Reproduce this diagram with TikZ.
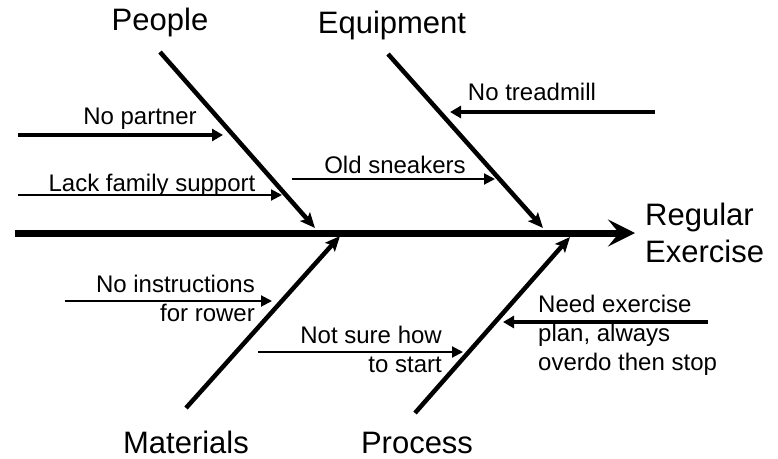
\documentclass[tikz,border=0pt]{standalone}
\usepackage{fontspec}
\setmainfont{Liberation Sans}
\usetikzlibrary{arrows.meta}
\tikzstyle{spine} = [line width=7pt,-{Stealth[length=27pt,width=27pt,inset=11pt]}]
\tikzstyle{bone} = [line width=4.5pt,-{Stealth[length=15pt,width=13pt,inset=3pt]}]
\tikzstyle{cause} = [line width=4pt,-{Triangle[length=11pt,width=12pt]}]
\tikzstyle{minor} = [line width=2pt,-{Triangle[length=11pt,width=11pt]}]
\tikzstyle{category} = [font=\fontsize{31}{37}\selectfont,inner sep=0pt]
\tikzstyle{causetext} = [font=\fontsize{24}{29}\selectfont,inner sep=0pt]

\begin{document}
\begin{tikzpicture}[x=1pt,y=-1pt]
      \useasboundingbox (0,0) rectangle (778,458);
      % spine and effect
      \coordinate (tail) at (15,233);
      \coordinate (effect) at (635,233);
      \node (goal) [category, align=left, anchor=base west] at (645,262) {Regular\\Exercise};
      \draw [spine] (tail) -- (effect);
      % categories
      \node (people) [category, anchor=base] at (160,30) {People};
      \node (equip) [category, anchor=base] at (392,33) {Equipment};
      \node (mater) [category, anchor=base] at (186,453) {Materials};
      \node (proc) [category, anchor=base] at (417,453) {Process};
      \coordinate (p1) at (160,52);
      \coordinate (p2) at (315,228);
      \coordinate (e1) at (388,54);
      \coordinate (e2) at (543,228);
      \coordinate (m1) at (186,408);
      \coordinate (m2) at (340,236);
      \coordinate (r1) at (415,413);
      \coordinate (r2) at (570,237);
      \draw [bone] (p1) -- (p2);
      \draw [bone] (e1) -- (e2);
      \draw [bone] (m1) -- (m2);
      \draw [bone] (r1) -- (r2);
      % causes
      \coordinate (c1a) at (18,135);
      \coordinate (c1b) at (223,135);
      \coordinate (c2a) at (18,195);
      \coordinate (c2b) at (282,195);
      \coordinate (c3a) at (292,179);
      \coordinate (c3b) at (495,179);
      \coordinate (c4a) at (655,112);
      \coordinate (c4b) at (450,112);
      \coordinate (c5a) at (65,301);
      \coordinate (c5b) at (272,301);
      \coordinate (c6a) at (258,352);
      \coordinate (c6b) at (463,352);
      \coordinate (c7a) at (708,322);
      \coordinate (c7b) at (503,322);
      \draw [cause] (c1a) -- (c1b);
      \draw [minor] (c2a) -- (c2b);
      \draw [minor] (c3a) -- (c3b);
      \draw [cause] (c4a) -- (c4b);
      \draw [minor] (c5a) -- (c5b);
      \draw [minor] (c6a) -- (c6b);
      \draw [cause] (c7a) -- (c7b);
      \node (partner) [causetext, anchor=base] at (140,124) {No partner};
      \node (family) [causetext, anchor=base] at (152,191) {Lack family support};
      \node (sneak) [causetext, anchor=base] at (395,173) {Old sneakers};
      \node (tread) [causetext, anchor=base] at (532,100) {No treadmill};
      \node (rower) [causetext, align=right, anchor=base east] at (255,321) {No instructions\\for rower};
      \node (start) [causetext, align=right, anchor=base east] at (442,372) {Not sure how\\to start};
      \node (plan) [causetext, align=left, anchor=base west] at (538,370) {Need exercise\\plan, always\\overdo then stop};
    \end{tikzpicture}
\end{document}
